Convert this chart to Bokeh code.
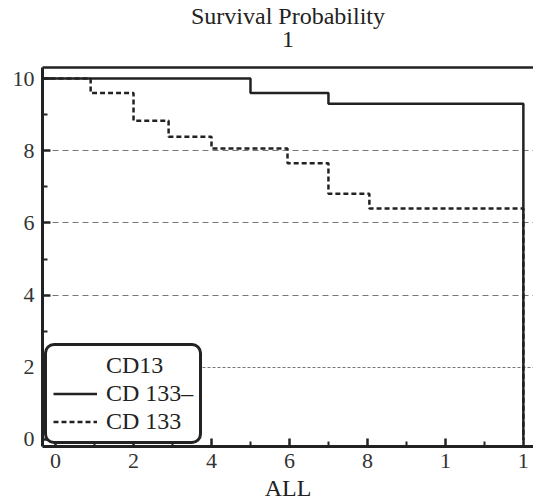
from bokeh.plotting import figure
from bokeh.models import (Range1d, FixedTicker, Grid, Legend, LegendItem, LinearAxis)
from bokeh.embed import file_html
from bokeh.resources import INLINE

# Data
neg_time = [-0.335, 5.0, 7.0, 12.0, 12.0]
neg_surv = [10.0, 9.6, 9.3, 9.3, 0.0]
pos_time = [-0.335, 0.9, 2.0, 2.9, 4.0, 5.95, 7.0, 8.05, 12.0, 12.0]
pos_surv = [10.0, 9.6, 8.83, 8.39, 8.06, 7.65, 6.81, 6.40, 6.40, 0.0]
x_ticks = [0, 2, 4, 6, 8, 10, 12]
x_tick_labels = ["0", "2", "4", "6", "8", "1", "1"]
y_ticks = [0, 2, 4, 6, 8, 10]
title_text = "Survival Probability"
subtitle_text = "1"
x_label = "ALL"
legend_title = "CD13"
series_names = ["CD 133\u2013", "CD 133"]

FONT = "Liberation Serif"
INK = "#222222"

p = figure(width=533, height=503, output_backend="svg", toolbar_location=None,
           x_range=Range1d(-0.335, 12.26), y_range=Range1d(-0.194, 10.306),
           min_border_left=42, min_border_right=0, min_border_top=0, min_border_bottom=0)
p.outline_line_color = None
p.background_fill_color = "white"
p.border_fill_color = "white"
p.xgrid.visible = False
p.ygrid.visible = False

p.title.text = title_text
p.title.align = "center"
p.title.text_font = FONT
p.title.text_font_size = "24px"
p.title.text_font_style = "normal"
p.title.text_color = "#222222"
p.title.standoff = 0

# grid lines
g1 = Grid(dimension=1, ticker=FixedTicker(ticks=[4, 6, 8]), grid_line_color="#777777",
          grid_line_dash="6 4", grid_line_width=1)
g2 = Grid(dimension=1, ticker=FixedTicker(ticks=[2]), grid_line_color="#777777",
          grid_line_dash="3 2", grid_line_width=1)
p.add_layout(g1)
p.add_layout(g2)

# axes styling
for ax in (p.xaxis[0], p.yaxis[0]):
    ax.axis_line_width = 3
    ax.axis_line_color = INK
    ax.major_tick_in = 8
    ax.major_tick_out = 0
    ax.minor_tick_in = 5
    ax.minor_tick_out = 0
    ax.major_tick_line_width = 2.5
    ax.minor_tick_line_width = 2
    ax.major_tick_line_color = INK
    ax.minor_tick_line_color = INK
    ax.major_label_text_font = FONT
    ax.major_label_text_font_size = "22px"
    ax.major_label_text_color = "#333333"
    ax.axis_label_text_font = FONT
    ax.axis_label_text_font_style = "normal"
    ax.axis_label_text_color = "#222222"

p.xaxis.ticker = FixedTicker(ticks=x_ticks, minor_ticks=[1, 3, 5, 7, 9, 11])
p.xaxis.major_label_overrides = {t: s for t, s in zip(x_ticks, x_tick_labels)}
p.xaxis.axis_label = x_label
p.xaxis.axis_label_text_font_size = "24px"
p.xaxis.axis_label_standoff = 4
p.xaxis.major_label_standoff = 7
p.yaxis.ticker = FixedTicker(ticks=y_ticks, minor_ticks=[1, 3, 5, 7, 9])
p.yaxis.major_label_standoff = 8

# top border line carrying the "1" caption
top = LinearAxis(major_tick_line_color=None, minor_tick_line_color=None,
                 major_label_text_font_size="0px", axis_line_width=2.5, axis_line_color=INK,
                 axis_label=subtitle_text, axis_label_text_font=FONT,
                 axis_label_text_font_size="24px", axis_label_text_font_style="normal",
                 axis_label_text_color="#222222", axis_label_standoff=21)
top.ticker = FixedTicker(ticks=[])
p.add_layout(top, "above")

r_title = p.line([], [], line_alpha=0)
r_neg = p.step(neg_time, neg_surv, mode="after", line_color=INK, line_width=2.5)
r_pos = p.step(pos_time, pos_surv, mode="after", line_color=INK, line_width=2.5, line_dash="5 3")

legend = Legend(items=[LegendItem(label=legend_title, renderers=[r_title]),
                       LegendItem(label=series_names[0], renderers=[r_neg]),
                       LegendItem(label=series_names[1], renderers=[r_pos])],
                location=(2, 2), margin=0, padding=6, spacing=1,
                glyph_width=44, glyph_height=27, label_standoff=9,
                label_text_font=FONT, label_text_font_size="24px", label_text_color="#222222",
                border_line_color=INK, border_line_alpha=1.0, border_line_width=3,
                background_fill_color="white", background_fill_alpha=1.0)
try:
    legend.border_radius = 10
except Exception:
    pass
p.add_layout(legend, "center")

open("out.html", "w").write(file_html(p, INLINE))
